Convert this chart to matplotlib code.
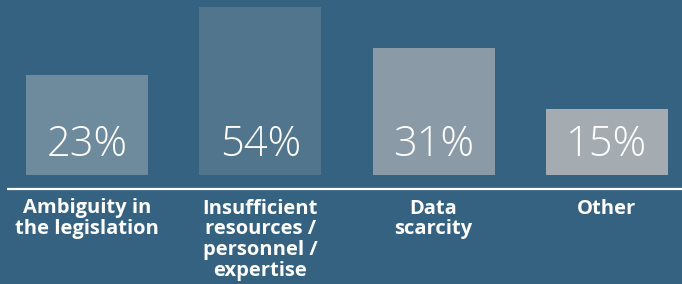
import matplotlib
matplotlib.use("Agg")
import matplotlib.pyplot as plt

categories = ["Ambiguity in\nthe legislation",
              "Insufficient\nresources /\npersonnel /\nexpertise",
              "Data\nscarcity",
              "Other"]
values = [23, 54, 31, 15]            # percentages shown on bars
bar_heights = [100, 168, 127, 66]    # drawn bar heights (visual units)
bar_colors = ["#6e8a9d", "#52758e", "#8a9ba7", "#a4abb1"]
bg = "#366281"

fig = plt.figure(figsize=(6.82, 2.84), dpi=100, facecolor=bg)
ax = fig.add_axes([0, 0, 1, 1])
ax.set_facecolor(bg)
ax.set_xlim(-87/173.3, (682-87)/173.3)
ax.set_ylim(-109, 175)
ax.axis("off")

x = list(range(len(categories)))
ax.bar(x, bar_heights, width=122/173.3, color=bar_colors, align="center")

for xi, v in zip(x, values):
    ax.text(xi, 30, f"{v}%", ha="center", va="center", color="white",
            fontsize=30, family="Open Sans", fontweight=300)

for xi, c in zip(x, categories):
    ax.text(xi, -23.5, c, ha="center", va="top", color="white",
            fontsize=14.5, family="Open Sans", fontweight="bold", linespacing=1.06)

ax.plot([(7-87)/173.3, (682-87)/173.3], [-14, -14], color="white", lw=1.6,
        solid_capstyle="butt")

fig.savefig("out.png", dpi=100, facecolor=bg)
